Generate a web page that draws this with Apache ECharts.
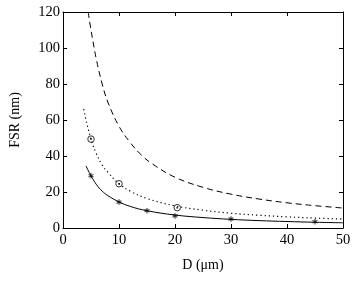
<!DOCTYPE html>
<html><head><meta charset="utf-8">
<script src="https://cdn.jsdelivr.net/npm/echarts@6/dist/echarts.min.js"></script>
<style>html,body{margin:0;padding:0;background:#fff}#c{width:354px;height:281px}</style>
</head><body><div id="c"></div>
<script>
// Curve samples (D in µm, FSR in nm)
const dashedD   = [4.5, 5, 6, 7, 8, 10, 12, 14, 16, 20, 25, 30, 35, 40, 45, 50];
const dashedFSR = [120, 110, 93, 80, 70, 56.5, 47.5, 40.5, 35.5, 28.2, 22.6, 18.8, 16.1, 14, 12.4, 11.1];
const dottedD   = [3.7, 4, 5, 6, 7, 8, 10, 12, 15, 20, 25, 30, 35, 40, 45, 50];
const dottedFSR = [66, 61.5, 49.4, 41, 35, 31, 24.6, 20.5, 16.4, 12.3, 9.9, 8.2, 7.1, 6.2, 5.5, 5];
const solidD    = [4.1, 5, 6, 7, 8, 10, 12, 15, 20, 25, 30, 35, 40, 45, 50];
const solidFSR  = [34.5, 29, 24, 20.5, 18, 14.5, 12, 9.6, 7.2, 5.8, 4.8, 4.1, 3.6, 3.2, 2.9];
// Measured points
const starD   = [5, 10, 15, 20, 30, 45];
const starFSR = [29, 14.4, 9.6, 6.7, 5.0, 3.5];
const circD   = [5, 10, 20.4];
const circFSR = [49.4, 24.6, 11.3];
// Axis ticks
const xTicks = [0, 10, 20, 30, 40, 50];
const yTicks = [0, 20, 40, 60, 80, 100, 120];

const zip = (a, b) => a.map((v, i) => [v, b[i]]);
const font = 'Liberation Serif';
const ast = 'path://M4,0h2v3.6l3.1,-1.8l1,1.7l-3.1,1.8l3.1,1.8l-1,1.7l-3.1,-1.8v3.6h-2v-3.6l-3.1,1.8l-1,-1.7l3.1,-1.8l-3.1,-1.8l1,-1.7l3.1,1.8z';

const axisCommon = {
  axisLine: {show: true, onZero: false, lineStyle: {color: '#000', width: 1}},
  axisTick: {show: true, inside: true, length: 4, lineStyle: {color: '#000'}},
  splitLine: {show: false}
};
const chart = echarts.init(document.getElementById('c'), null, {renderer: 'canvas'});
chart.setOption({
  animation: false,
  backgroundColor: '#fff',
  grid: {left: 63, right: 11, top: 12, bottom: 53},
  xAxis: [
    Object.assign({type: 'value', min: xTicks[0], max: xTicks[xTicks.length-1], interval: 10,
      name: 'D (\u03bcm)', nameLocation: 'middle', nameGap: 30,
      nameTextStyle: {fontFamily: font, fontSize: 14, color: '#000'},
      axisLabel: {fontFamily: font, fontSize: 14.5, color: '#000', margin: 5}}, axisCommon),
    Object.assign({type: 'value', position: 'top', min: 0, max: 50, interval: 10,
      axisLabel: {show: false}}, axisCommon)
  ],
  yAxis: [
    Object.assign({type: 'value', min: yTicks[0], max: yTicks[yTicks.length-1], interval: 20,
      name: 'FSR (nm)', nameLocation: 'middle', nameGap: 41, nameRotate: 90,
      nameTextStyle: {fontFamily: font, fontSize: 14, color: '#000'},
      axisLabel: {fontFamily: font, fontSize: 14.5, color: '#000', margin: 3}}, axisCommon),
    Object.assign({type: 'value', position: 'right', min: 0, max: 120, interval: 20,
      axisLabel: {show: false}}, axisCommon)
  ],
  series: [
    {type: 'line', data: zip(dashedD, dashedFSR), smooth: 0.4, showSymbol: false,
     lineStyle: {color: '#000', width: 1, type: [6, 4]}},
    {type: 'line', data: zip(dottedD, dottedFSR), smooth: 0.4, showSymbol: false,
     lineStyle: {color: '#000', width: 1.2, type: [1.2, 3]}},
    {type: 'line', data: zip(solidD, solidFSR), smooth: 0.4, showSymbol: false,
     lineStyle: {color: '#000', width: 1}},
    {type: 'scatter', data: zip(starD, starFSR), symbol: ast, symbolSize: 5.5,
     itemStyle: {color: '#000'}},
    {type: 'scatter', data: zip(circD, circFSR), symbol: 'circle', symbolSize: 6.5,
     itemStyle: {color: '#fff', borderColor: '#000', borderWidth: 1}},
    {type: 'scatter', data: zip(circD, circFSR), symbol: 'circle', symbolSize: 2,
     itemStyle: {color: '#000'}}
  ]
});
</script></body></html>
